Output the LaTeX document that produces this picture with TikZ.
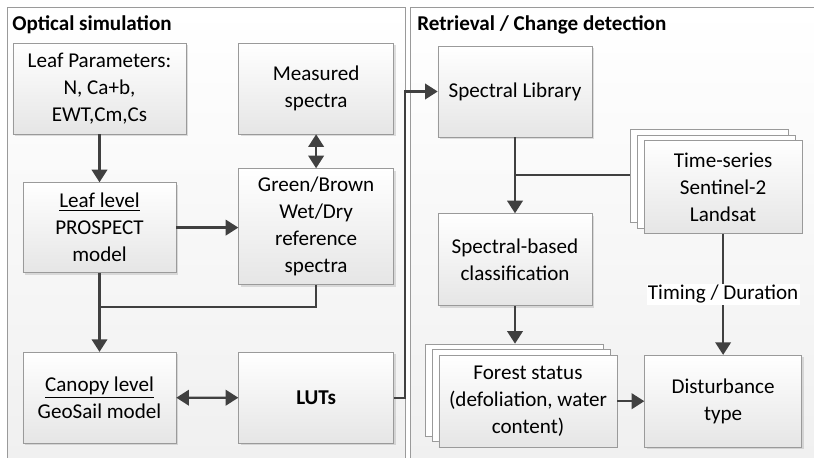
\documentclass[tikz,border=0pt]{standalone}
\usepackage{fontspec}
\setmainfont{Carlito}
\usetikzlibrary{positioning,calc,shadows,arrows.meta}
\definecolor{boxline}{HTML}{9A9A9A}
\definecolor{linegray}{HTML}{404040}

\begin{document}
\begin{tikzpicture}[
    x=0.025cm, y=-0.025cm,
    font=\fontsize{15}{19.2}\selectfont,
    panel/.style={rectangle, draw=boxline, top color=white, bottom color=gray!12},
    box/.style={rectangle, draw=boxline, top color=white, bottom color=gray!20,
                align=center, minimum width=3.875cm, minimum height=2.275cm, inner sep=2pt,
                drop shadow={shadow xshift=1.5pt, shadow yshift=-1.5pt, opacity=0.25}},
    stack/.style={rectangle, draw=boxline, top color=white, bottom color=gray!20,
                  align=center, inner sep=2pt,
                  copy shadow={shadow xshift=-0.35cm, shadow yshift=0.28cm, fill=white, draw=boxline},
                  copy shadow={shadow xshift=-0.175cm, shadow yshift=0.14cm, fill=white, draw=boxline}},
    title/.style={font=\fontsize{15}{18}\selectfont\bfseries, anchor=west, inner sep=0pt},
    arrow/.style={-{Triangle[length=9pt,width=11pt]}, line width=1.7pt, draw=linegray},
    both/.style={{Triangle[length=9pt,width=11pt]}-{Triangle[length=9pt,width=11pt]},
                 line width=1.7pt, draw=linegray},
    line/.style={line width=1.7pt, draw=linegray}
]
\useasboundingbox (0,0) rectangle (814,458);
\draw[panel] (7,7) rectangle (405,470);
\draw[panel] (410,7) rectangle (820,470);

\node[title] (opttitle) at (12,25) {Optical simulation};
\node[title] (rettitle) at (417,25) {Retrieval / Change detection};

% optical simulation
\node[box, minimum width=4.325cm] (leafpar) at (99.5,88.5) {Leaf Parameters:\\ N, Ca+b,\\ EWT,Cm,Cs};
\node[box, right=1.3cm of leafpar] (measured) {Measured\\ spectra};
\node[box, minimum width=3.825cm, minimum height=2.25cm, below=1.2cm of leafpar] (leaflevel) {\underline{Leaf level}\\ PROSPECT\\ model};
\node[box, minimum height=2.9cm, below=0.85cm of measured] (greenbrown) {Green/Brown\\ Wet/Dry\\ reference\\ spectra};
\node[box, minimum width=3.825cm, below=1.975cm of leaflevel] (canopy) {\underline{Canopy level}\\ GeoSail model};
\node[box, below=1.675cm of greenbrown] (luts) {\textbf{LUTs}};

% retrieval / change detection
\node[box, minimum width=3.85cm] (speclib) at (515,91.5) {Spectral Library};
\node[box, minimum width=3.85cm, minimum height=2.3cm, below=1.9cm of speclib] (specclass) {Spectral-based\\ classification};
\node[stack, minimum width=4.45cm, minimum height=2.3cm, below=1.225cm of specclass, xshift=0.325cm] (forest) {Forest status\\ (defoliation, water\\ content)};
\node[box, minimum width=3.925cm, minimum height=2.3cm, right=0.675cm of forest] (disturb) {Disturbance\\ type};
\node[stack, minimum width=3.95cm, minimum height=2.325cm, above=3.025cm of disturb] (timeser) {Time-series\\ Sentinel-2\\ Landsat};

\coordinate (merge) at ($(leaflevel.south)!0.43!(canopy.north)$);
\coordinate (tsin) at ([shift={(-0.35cm,0.3cm)}]timeser.west);
\coordinate (fsttop) at ([yshift=0.28cm]forest.north);

\draw[arrow] (leafpar) -- (leaflevel);
\draw[both] (measured) -- (greenbrown);
\draw[arrow] (leaflevel.east) -- (leaflevel.east -| greenbrown.west);
\draw[arrow] (leaflevel) -- (canopy);
\draw[line] (greenbrown.south) |- (merge);
\draw[both] (canopy) -- (luts);
\draw[arrow] (luts.east) -- ++(11,0) |- (speclib.west);
\draw[arrow] (speclib) -- (specclass);
\draw[line] (tsin) -- (tsin -| speclib.south);
\draw[arrow] (specclass.south) -- (specclass.south |- fsttop);
\draw[arrow] (forest) -- (disturb);
\draw[arrow] (timeser) -- node[fill=white, inner sep=1pt] {Timing / Duration} (disturb);
\end{tikzpicture}
\end{document}
